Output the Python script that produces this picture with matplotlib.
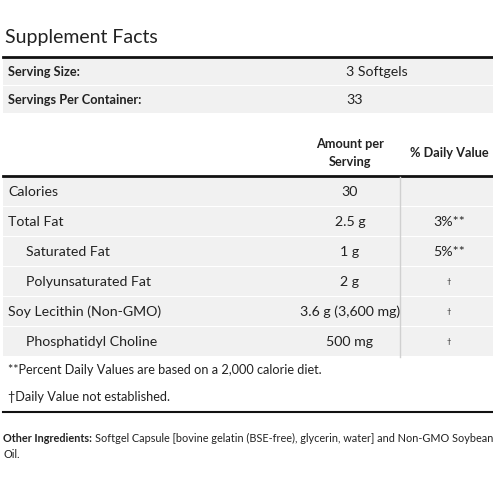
import matplotlib
matplotlib.use("Agg")
import matplotlib.pyplot as plt
from matplotlib.patches import Rectangle

plt.rcParams['font.family'] = ['Lato', 'DejaVu Sans']

title = "Supplement Facts"
serving_labels = ["Serving Size:", "Servings Per Container:"]
serving_values = ["3 Softgels", "33"]
nutrients = ["Calories", "Total Fat", "Saturated Fat", "Polyunsaturated Fat",
             "Soy Lecithin (Non-GMO)", "Phosphatidyl Choline"]
indented = [False, False, True, True, False, True]
amounts = ["30", "2.5 g", "1 g", "2 g", "3.6 g (3,600 mg)", "500 mg"]
daily_values = ["", "3%**", "5%**", "\u2020", "\u2020", "\u2020"]
footnotes = ["**Percent Daily Values are based on a 2,000 calorie diet.",
             "\u2020Daily Value not established."]
other_label = "Other Ingredients:"
other_text = "Softgel Capsule [bovine gelatin (BSE-free), glycerin, water] and Non-GMO Soybean"
other_text2 = "Oil."

W = H = 493
fig = plt.figure(figsize=(4.93, 4.93), dpi=100)
ax = fig.add_axes([0, 0, 1, 1])
ax.set_xlim(0, W); ax.set_ylim(H, 0); ax.axis('off')

bg = '#f1f1f1'; tc = '#222222'; fs = 10.2
ax.text(5, 38, title, fontsize=14, color=tc, va='center', ha='left')
ax.plot([3, 493], [57, 57], color='#111', lw=2)
for i, (l, v) in enumerate(zip(serving_labels, serving_values)):
    y0 = 58 + i * 28
    ax.add_patch(Rectangle((3, y0), 490, 27, color=bg, lw=0))
    ax.text(8, y0 + 14, l, fontsize=9.2, fontweight='bold', color=tc, va='center')
    ax.text(346, y0 + 14, v, fontsize=fs, color=tc, va='center')

ax.text(350, 153, "Amount per\nServing", fontsize=9.2, fontweight='bold', color=tc,
        ha='center', va='center', linespacing=1.5)
ax.text(449, 153, "% Daily Value", fontsize=9.2, fontweight='bold', color=tc,
        ha='center', va='center')
ax.plot([3, 493], [176, 176], color='#111', lw=2)

rh = 30
for i, (n, ind, a, d) in enumerate(zip(nutrients, indented, amounts, daily_values)):
    y0 = 177 + i * rh
    ax.add_patch(Rectangle((3, y0), 490, rh - 1.5, color=bg, lw=0))
    ax.text(26 if ind else 8, y0 + 14.5, n, fontsize=fs, color=tc, va='center')
    ax.text(350, y0 + 14.5, a, fontsize=fs, color=tc, va='center', ha='center')
    ax.text(449, y0 + 14.5, d, fontsize=fs if '%' in d else 5.5, color=tc, va='center', ha='center')
ax.plot([399.5, 399.5], [177, 357], color='#d0d0d0', lw=1)

ax.text(8, 370, footnotes[0], fontsize=9.2, color=tc, va='center')
ax.text(8, 397, footnotes[1], fontsize=9.2, color=tc, va='center')
ax.plot([3, 493], [412, 412], color='#111', lw=1.5)

t = ax.text(3, 438, other_label, fontsize=7.8, fontweight='bold', color=tc, va='center')
fig.canvas.draw()
bb = t.get_window_extent()
x_end = ax.transData.inverted().transform((bb.x1, bb.y0))[0]
ax.text(x_end + 3, 438, other_text, fontsize=7.8, color=tc, va='center')
ax.text(3, 454, other_text2, fontsize=7.8, color=tc, va='center')

fig.savefig("out.png", dpi=100, facecolor='white')
